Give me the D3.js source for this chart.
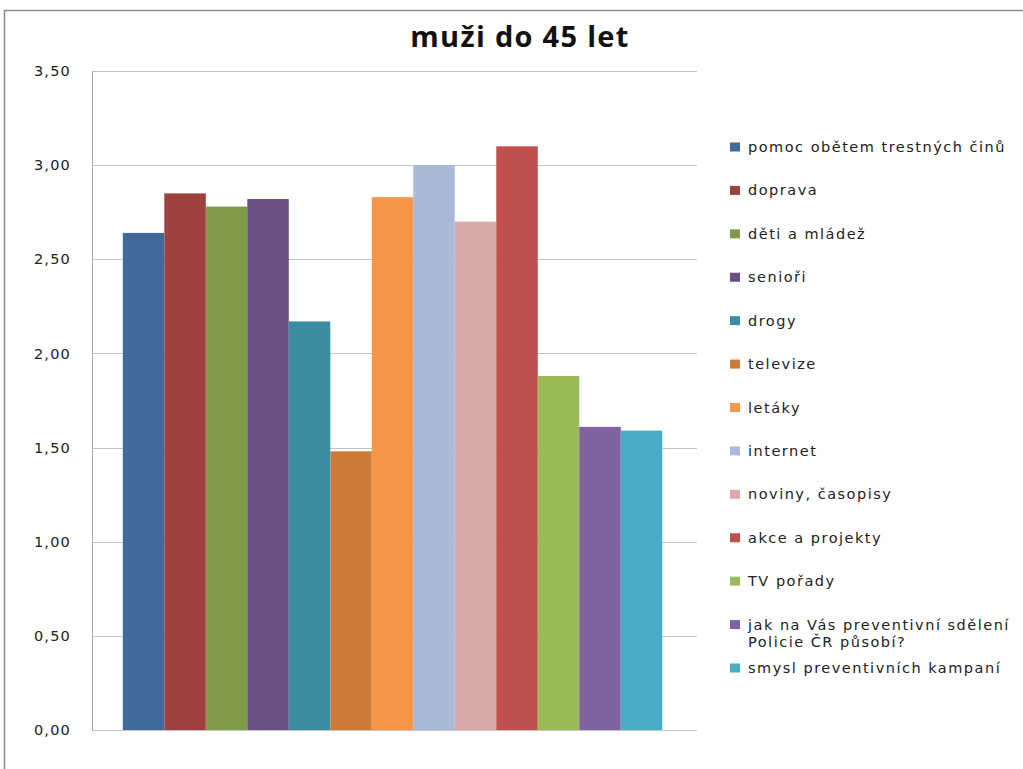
<!DOCTYPE html>
<html>
<head>
<meta charset="utf-8">
<script src="https://cdn.jsdelivr.net/npm/d3@7"></script>
<style>
  html, body { margin: 0; padding: 0; background: #fff; }
  svg { display: block; }
</style>
</head>
<body>
<svg id="chart" width="1023" height="769"></svg>
<script>
const title = "muži do 45 let";
const categories = [
  "pomoc obětem trestných činů",
  "doprava",
  "děti a mládež",
  "senioři",
  "drogy",
  "televize",
  "letáky",
  "internet",
  "noviny, časopisy",
  "akce a projekty",
  "TV pořady",
  "jak na Vás preventivní sdělení Policie ČR působí?",
  "smysl preventivních kampaní"
];
const values = [2.64, 2.85, 2.78, 2.82, 2.17, 1.48, 2.83, 3.00, 2.70, 3.10, 1.88, 1.61, 1.59];
const colors = [
  "#3F6A9B", "#9E403D", "#7F9A48", "#695185", "#3B8DA2", "#CC7B38", "#F79646",
  "#AAB9D7", "#D9AAA9", "#C0504D", "#9BBB59", "#8064A2", "#4BACC6"
];
const yTicks = [0, 0.5, 1, 1.5, 2, 2.5, 3, 3.5];
// legend entries that wrap onto two lines
const legendLines = [
  ["pomoc obětem trestných činů"],
  ["doprava"],
  ["děti a mládež"],
  ["senioři"],
  ["drogy"],
  ["televize"],
  ["letáky"],
  ["internet"],
  ["noviny, časopisy"],
  ["akce a projekty"],
  ["TV pořady"],
  ["jak na Vás preventivní sdělení", "Policie ČR působí?"],
  ["smysl preventivních kampaní"]
];

const svg = d3.select("#chart");

// outer chart frame (left and top edges visible)
svg.append("path")
  .attr("d", "M4.5,769 V10.5 H1023")
  .attr("fill", "none")
  .attr("stroke", "#8c8c8c")
  .attr("stroke-width", 1.5);

const plot = { left: 92, right: 697, top: 71, bottom: 730 };

const x = d3.scaleBand()
  .domain(categories)
  .range([plot.left, plot.right])
  .paddingInner(0)
  .paddingOuter(0.79)
  .align(0.47);

const y = d3.scaleLinear()
  .domain([0, 3.5])
  .range([plot.bottom, plot.top]);

const fmt = v => d3.format(".2f")(v).replace(".", ",");

// gridlines
svg.append("g")
  .selectAll("line")
  .data(yTicks)
  .join("line")
  .attr("x1", plot.left)
  .attr("x2", plot.right)
  .attr("y1", d => Math.round(y(d)) + 0.5)
  .attr("y2", d => Math.round(y(d)) + 0.5)
  .attr("stroke", "#c4c4c4")
  .attr("stroke-width", 1.2);

// y axis line
svg.append("line")
  .attr("x1", plot.left + 0.5).attr("x2", plot.left + 0.5)
  .attr("y1", plot.top).attr("y2", plot.bottom)
  .attr("stroke", "#a8a8a8");

// y axis labels
const yAxis = d3.axisLeft(y)
  .tickValues(yTicks)
  .tickFormat(fmt)
  .tickSize(0)
  .tickPadding(21);
const yg = svg.append("g")
  .attr("transform", `translate(${plot.left},0)`)
  .call(yAxis);
yg.select(".domain").remove();
yg.selectAll("text")
  .attr("font-family", "'DejaVu Sans', Verdana, sans-serif")
  .attr("font-size", 14.5)
  .attr("letter-spacing", 1.2)
  .attr("fill", "#222");

// bars
svg.append("g")
  .selectAll("rect")
  .data(values)
  .join("rect")
  .attr("x", (d, i) => x(categories[i]))
  .attr("y", d => y(d))
  .attr("width", x.bandwidth())
  .attr("height", d => y(0) - y(d))
  .attr("fill", (d, i) => colors[i]);

// title
svg.append("text")
  .attr("x", 520)
  .attr("y", 47)
  .attr("text-anchor", "middle")
  .attr("font-family", "'Open Sans', Lato, sans-serif")
  .attr("font-weight", "bold")
  .attr("font-size", 29)
  .attr("letter-spacing", 1.3)
  .attr("fill", "#111")
  .text(title);

// legend
const legendY = d3.scaleLinear().domain([0, 12]).range([147, 668]);
const lg = svg.append("g")
  .selectAll("g")
  .data(categories)
  .join("g")
  .attr("transform", (d, i) => `translate(730,${legendY(i)})`);
lg.append("rect")
  .attr("x", 0).attr("y", -4.5)
  .attr("width", 10).attr("height", 9)
  .attr("fill", (d, i) => colors[i]);
lg.each(function (d, i) {
  const t = d3.select(this).append("text")
    .attr("x", 18)
    .attr("font-family", "'DejaVu Sans', Verdana, sans-serif")
    .attr("font-size", 14.5)
    .attr("letter-spacing", 1.5)
    .attr("fill", "#222");
  legendLines[i].forEach((line, k) => {
    t.append("tspan")
      .attr("x", 18)
      .attr("y", 5 + k * 17)
      .text(line);
  });
});
</script>
</body>
</html>
